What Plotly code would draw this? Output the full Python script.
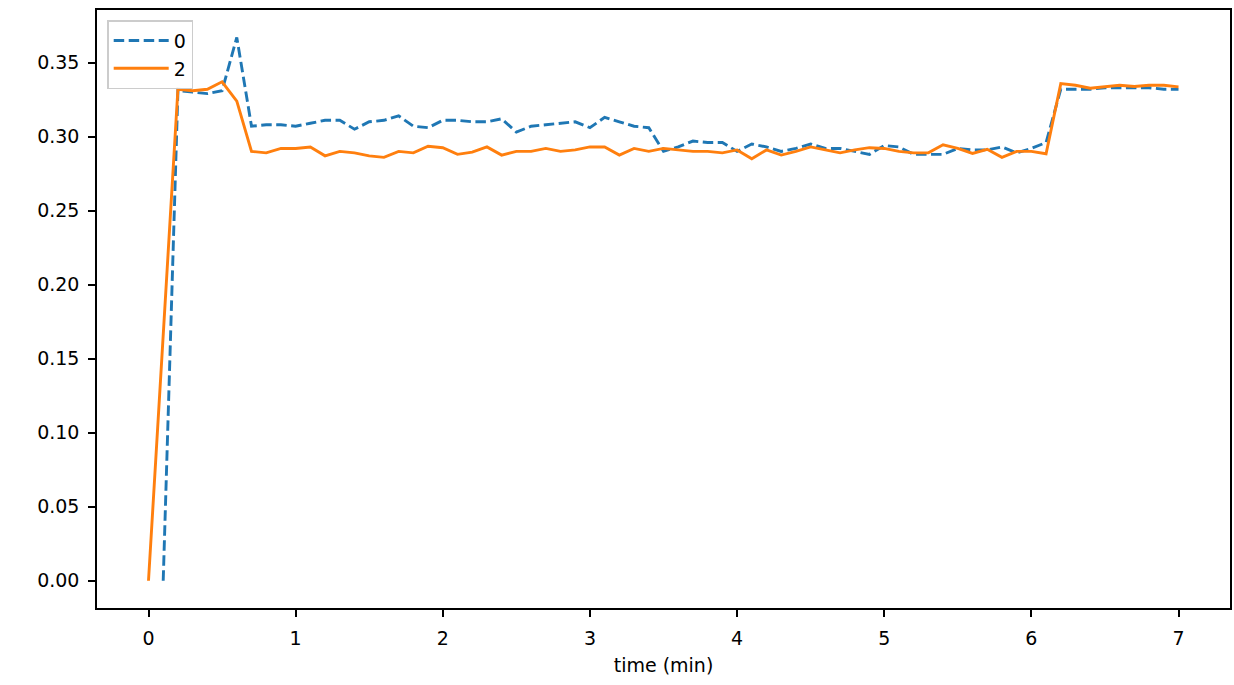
import plotly.graph_objects as go

time_min = [round(i * 0.1, 1) for i in range(71)]

series_0 = [None, 0.0, 0.331, 0.330, 0.329, 0.331, 0.367, 0.307, 0.308, 0.308,
            0.307, 0.309, 0.311, 0.311, 0.305, 0.310, 0.311, 0.314, 0.307, 0.306,
            0.311, 0.311, 0.310, 0.310, 0.312, 0.303, 0.307, 0.308, 0.309, 0.310,
            0.306, 0.313, 0.310, 0.307, 0.306, 0.290, 0.293, 0.297, 0.296, 0.296,
            0.290, 0.295, 0.293, 0.290, 0.292, 0.295, 0.292, 0.292, 0.290, 0.288,
            0.294, 0.293, 0.288, 0.288, 0.288, 0.292, 0.291, 0.291, 0.293, 0.289,
            0.292, 0.296, 0.332, 0.332, 0.332, 0.333, 0.333, 0.333, 0.333, 0.332,
            0.332]

series_2 = [0.0, 0.17, 0.332, 0.331, 0.332, 0.337, 0.324, 0.290, 0.289, 0.292,
            0.292, 0.293, 0.287, 0.290, 0.289, 0.287, 0.286, 0.290, 0.289, 0.2935,
            0.2925, 0.288, 0.2895, 0.293, 0.2875, 0.290, 0.290, 0.292, 0.290, 0.291,
            0.293, 0.293, 0.2875, 0.292, 0.290, 0.292, 0.291, 0.290, 0.290, 0.289,
            0.291, 0.285, 0.291, 0.2875, 0.290, 0.293, 0.291, 0.289, 0.291, 0.2925,
            0.292, 0.290, 0.289, 0.289, 0.2945, 0.292, 0.2886, 0.2914, 0.286, 0.290,
            0.290, 0.2884, 0.3358, 0.3347, 0.3327, 0.3338, 0.3347, 0.3338, 0.3347, 0.3347,
            0.3336]

x_ticks = [0, 1, 2, 3, 4, 5, 6, 7]
y_ticks = [0.00, 0.05, 0.10, 0.15, 0.20, 0.25, 0.30, 0.35]

FONT = "DejaVu Sans"
FS = 19

fig = go.Figure()
fig.add_trace(go.Scatter(x=time_min, y=series_0, mode="lines", name="0",
                         line=dict(color="#1f77b4", width=2.9, dash="10.5px,4.5px")))
fig.add_trace(go.Scatter(x=time_min, y=series_2, mode="lines", name="2",
                         line=dict(color="#ff7f0e", width=2.9)))

axis_common = dict(showline=True, linecolor="black", linewidth=1.5, mirror=True,
                   ticks="outside", ticklen=7, tickcolor="black", tickwidth=1.5,
                   showgrid=False, zeroline=False, ticklabelstandoff=5,
                   tickfont=dict(family=FONT, size=FS, color="black"))

fig.update_layout(
    width=1234, height=685,
    margin=dict(l=97, r=2, t=10, b=77),
    plot_bgcolor="white", paper_bgcolor="white",
    font=dict(family=FONT, size=FS, color="black"),
    showlegend=True,
    legend=dict(x=0.009, y=0.983, xanchor="left", yanchor="top",
                bordercolor="#cccccc", borderwidth=1.5, bgcolor="rgba(255,255,255,0.8)",
                font=dict(family=FONT, size=FS, color="black"),
                itemwidth=55, tracegroupgap=0),
    xaxis=dict(range=[-0.35, 7.35], tickvals=x_ticks, ticktext=[str(v) for v in x_ticks],
               title=dict(text="time (min)", standoff=11,
                          font=dict(family=FONT, size=FS, color="black")),
               **axis_common),
    yaxis=dict(range=[-0.0184, 0.3855], tickvals=y_ticks,
               ticktext=[f"{v:.2f}" for v in y_ticks], **axis_common),
)

fig.write_html("out.html", config={"displayModeBar": False},
               post_script="document.body.style.margin='0';document.body.style.overflow='hidden';")
